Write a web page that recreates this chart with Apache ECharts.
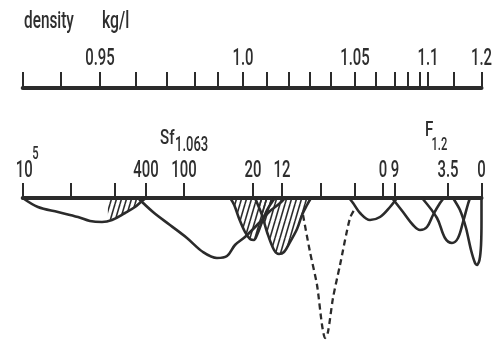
<!DOCTYPE html>
<html>
<head>
<meta charset="utf-8">
<script src="https://cdn.jsdelivr.net/npm/echarts@6/dist/echarts.min.js"></script>
<style>
  html, body { margin: 0; padding: 0; background: #fff; }
  #chart { width: 493px; height: 341px; }
</style>
</head>
<body>
<div id="chart"></div>
<script>
// Positions along the cell are given in % of its length (0 = left end, 100 = right end).

// Density scale, kg/l
const densityTickPos    = [0, 8.35, 16.85, 24.69, 31.45, 37.55, 42.57, 48.02, 53.18, 58.04, 62.62, 67.20, 72.43, 77.0, 81.15, 83.98, 86.6, 88.34, 94.0, 100];
const densityTickLabels = ['', '', '0.95', '', '', '', '', '1.0', '', '', '', '', '1.05', '', '', '', '', '1.1', '', '1.2'];

// Flotation scale: Sf(1.063) on the left, F(1.2) on the right
const flotTickPos    = [0, 10.53, 20.12, 26.87, 35.16, 50.2, 56.52, 65.02, 72.43, 78.53, 81.15, 92.7, 100];
const flotTickLabels = ['10^5', '', '', '400', '100', '20', '12', '', '', '0', '9', '3.5', '0'];

// Schlieren peaks: [position %, deflection]
const peakChylo = [[0,0],[3.33,9],[7.69,14],[12.05,19],[14.67,23],[17.28,24],[19.46,22],[22.3,15],[24.47,9],[26.0,3],[26.87,0]];
const peakSmall = [[18.5,0],[18.6,21],[19.46,22],[20.9,19],[22.3,15],[23.4,12],[24.47,9],[25.3,6],[26.0,3],[26.87,0]];
const peakVLDL  = [[25.13,0],[28.4,14],[32.1,27],[35.8,40],[39.3,54],[42.35,60],[44.53,58],[46.27,47],[48.45,39],[51.72,24],[53.68,14],[55.86,6],[57.17,0]];
const peakA     = [[45.23,0],[46.1,7],[47.2,21],[48.45,34],[49.54,41],[50.4,42],[51.07,37],[52.16,24],[53.25,12],[54.34,4],[55.0,0]];
const peakB     = [[50.63,0],[51.28,7],[52.16,17],[53.25,34],[54.78,52],[55.86,56],[56.95,54],[58.26,44],[59.79,31],[60.88,17],[61.97,7],[62.84,0]];
const peakDash  = [[61.1,17],[62.62,54],[64.15,87],[65.24,127],[65.9,140],[66.54,134],[67.63,100],[69.16,67],[71.34,20],[72.65,9]];
const peakC     = [[71.12,0],[72.0,5],[73.52,15],[75.7,22],[77.88,19],[80.06,9],[81.58,0]];
const peakD     = [[80.5,0],[82.89,14],[85.07,27],[86.6,32],[88.12,29],[89.43,17],[90.96,5],[91.83,0]];
const peakE     = [[87.03,0],[90.3,20],[92.04,40],[93.57,45],[94.88,40],[95.97,24],[97.06,6],[97.5,0]];
const peakF     = [[93.79,0],[95.31,12],[96.62,30],[97.71,52],[98.59,65],[99.03,67],[99.56,62],[99.9,47],[100,22],[100,0]];

const INK = '#2b2b2b';
const TEXT = '#2e2e2e';
const FONT = "Roboto, 'Liberation Sans', sans-serif";
const WEIGHT = 500;
const NARROW = 0.62;   // horizontal squeeze for a condensed look

// Diagonal hatch tile
function makeHatch() {
  const w = 5, h = 17;
  const c = document.createElement('canvas');
  c.width = w; c.height = h;
  const g = c.getContext('2d');
  g.strokeStyle = INK;
  g.lineWidth = 1.6;
  [-w, 0, w].forEach(function (dx) {
    g.beginPath(); g.moveTo(dx, h); g.lineTo(dx + w, 0); g.stroke();
  });
  return c;
}
const hatch = { image: makeHatch(), repeat: 'repeat' };

function curve(data, opts) {
  return Object.assign({
    type: 'line', xAxisIndex: 1, yAxisIndex: 1, data: data,
    showSymbol: false, smooth: 0.35, silent: true,
    lineStyle: { color: INK, width: 2.6 }, z: 3
  }, opts || {});
}

function txt(text, x, y, size, align, squeeze) {
  return {
    type: 'text', x: x, y: y, scaleX: squeeze || NARROW, silent: true,
    style: {
      text: text, fontFamily: FONT, fontWeight: WEIGHT, fontSize: size, fill: TEXT,
      textAlign: align || 'left', textVerticalAlign: 'middle'
    }
  };
}

const chart = echarts.init(document.getElementById('chart'), null, { renderer: 'canvas' });

chart.setOption({
  animation: false,
  backgroundColor: '#fff',
  grid: [
    { left: 22.7, right: 11.5, top: 40, height: 48 },
    { left: 22.7, right: 11.5, top: 198, height: 143 }
  ],
  xAxis: [
    {
      gridIndex: 0, type: 'value', position: 'bottom', min: 0, max: 100,
      axisLine: { lineStyle: { color: INK, width: 4 } },
      axisTick: { inside: true, length: 16, lineStyle: { color: INK, width: 2 }, customValues: densityTickPos },
      axisLabel: { show: false },
      splitLine: { show: false }
    },
    {
      gridIndex: 1, type: 'value', position: 'top', min: 0, max: 100,
      axisLine: { lineStyle: { color: INK, width: 4 } },
      axisTick: { length: 15, lineStyle: { color: INK, width: 2 }, customValues: flotTickPos },
      axisLabel: { show: false },
      splitLine: { show: false }
    }
  ],
  yAxis: [
    { gridIndex: 0, type: 'value', min: 0, max: 1, show: false },
    { gridIndex: 1, type: 'value', min: 0, max: 143, inverse: true, show: false }
  ],
  series: [
    curve(peakSmall, { smooth: false, lineStyle: { width: 0, opacity: 0 }, areaStyle: { color: hatch, opacity: 1 }, z: 1 }),
    curve(peakA, { areaStyle: { color: hatch, opacity: 1 }, z: 2 }),
    curve(peakB, { areaStyle: { color: hatch, opacity: 1 }, z: 2 }),
    curve(peakChylo),
    curve(peakVLDL),
    curve(peakDash, { smooth: 0.25, lineStyle: { color: INK, width: 2.3, type: [6, 4] } }),
    curve(peakC),
    curve(peakD),
    curve(peakE),
    curve(peakF, { smooth: 0.25 })
  ]
});

// Tick labels, placed at the axis positions of their ticks
const labels = [];
densityTickPos.forEach(function (p, i) {
  const t = densityTickLabels[i];
  if (!t) return;
  const x = chart.convertToPixel({ xAxisIndex: 0 }, p);
  labels.push(txt(t, x, 58.5, 24, 'center'));
});
flotTickPos.forEach(function (p, i) {
  const t = flotTickLabels[i];
  if (!t) return;
  const x = chart.convertToPixel({ xAxisIndex: 1 }, p);
  if (t.indexOf('^') > 0) {
    const parts = t.split('^');
    labels.push(txt(parts[0], x + 1.5, 171, 24, 'center'));
    labels.push(txt(parts[1], x + 9.5, 154, 18, 'left'));
  } else {
    labels.push(txt(t, x, 171, 24, 'center'));
  }
});

chart.setOption({
  graphic: labels.concat([
    txt('density', 24, 22, 24, 'left', 0.64),
    txt('kg/l', 102, 22, 24, 'left', 0.66),
    txt('Sf', 160, 138.5, 21, 'left', 0.72),
    txt('1.063', 175, 146, 21, 'left'),
    txt('F', 425, 130.5, 21, 'left', 0.72),
    txt('1.2', 431.5, 145, 18, 'left')
  ])
});
</script>
</body>
</html>
